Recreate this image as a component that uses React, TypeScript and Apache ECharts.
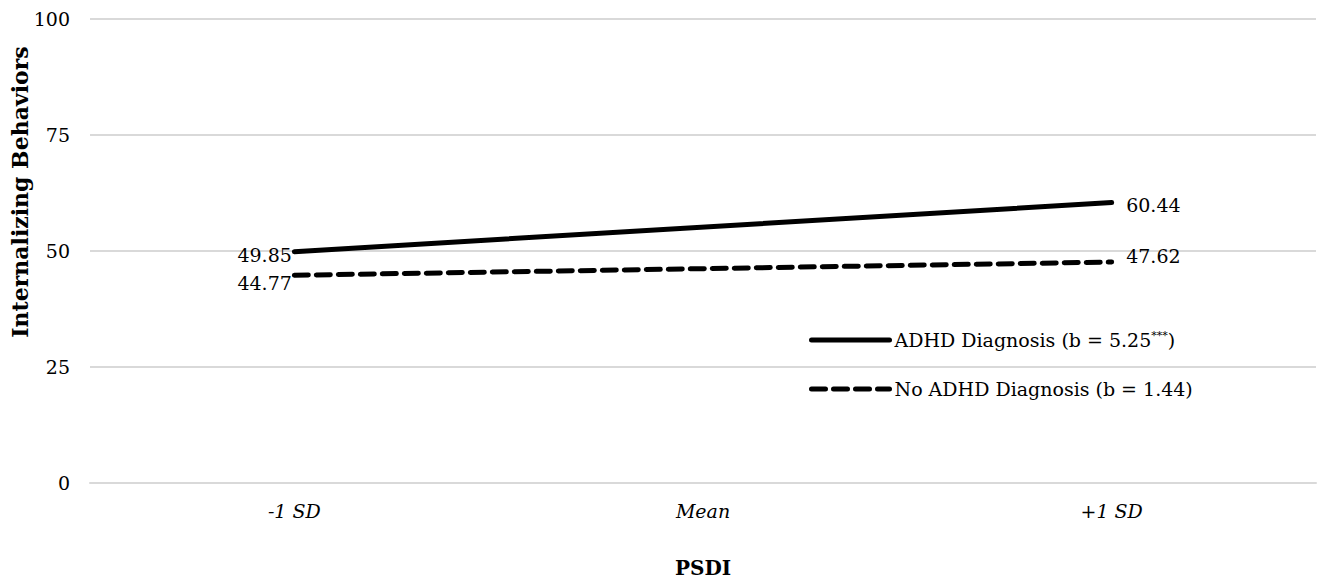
import React, { useEffect, useRef } from "react";
import * as echarts from "echarts";

const categories = ["-1 SD", "Mean", "+1 SD"];
const adhdValues: (number | null)[] = [49.85, null, 60.44];
const noAdhdValues: (number | null)[] = [44.77, null, 47.62];
const seriesNames = ["ADHD Diagnosis (b = 5.25***)", "No ADHD Diagnosis (b = 1.44)"];
const yTicks = { min: 0, max: 100, interval: 25 };

const FONT = "'DejaVu Serif', 'Liberation Serif', serif";

export default function App() {
  const ref = useRef<HTMLDivElement>(null);
  useEffect(() => {
    if (!ref.current) return;
    const chart = echarts.init(ref.current, undefined, { renderer: "svg" });
    const labelBase = { show: true, color: "#000", fontFamily: FONT, fontSize: 19 };
    const mk = (vals: (number | null)[], labels: any[]) =>
      vals.map((v, i) => (v == null ? null : { value: v, label: { ...labelBase, ...labels[i] } }));
    chart.setOption({
      animation: false,
      textStyle: { fontFamily: FONT },
      grid: { left: 90, right: 8, top: 19, bottom: 102, containLabel: false },
      xAxis: {
        type: "category",
        data: categories,
        boundaryGap: true,
        axisLine: { show: true, lineStyle: { color: "#d9d9d9", width: 2 } },
        axisTick: { show: false },
        axisLabel: { color: "#000", fontSize: 19, fontStyle: "italic", fontFamily: FONT, margin: 18 },
        name: "PSDI",
        nameLocation: "middle",
        nameGap: 75,
        nameTextStyle: { color: "#000", fontSize: 20, fontWeight: "bold", fontFamily: FONT },
      },
      yAxis: {
        type: "value",
        min: yTicks.min,
        max: yTicks.max,
        interval: yTicks.interval,
        axisLine: { show: false },
        axisTick: { show: false },
        splitLine: { lineStyle: { color: "#d9d9d9", width: 2 } },
        axisLabel: { color: "#000", fontSize: 19, fontFamily: FONT, margin: 20 },
      },
      graphic: [
        {
          type: "text",
          x: 20,
          y: 192,
          rotation: Math.PI / 2,
          style: {
            text: "Internalizing Behaviors",
            fill: "#000",
            font: `bold 22px ${FONT}`,
            textAlign: "center",
            textVerticalAlign: "middle",
          },
        },
      ],
      legend: {
        orient: "vertical",
        left: 804,
        top: 325,
        itemWidth: 78,
        itemHeight: 20,
        itemGap: 30,
        lineStyle: { width: 5 },
        itemStyle: { opacity: 0 },
        formatter: (name: string) =>
          name.indexOf("***") >= 0
            ? `{a|${name.replace("***)", "")}}{s|***}{a|)}`
            : `{a|${name}}`,
        textStyle: {
          color: "#000",
          fontSize: 19,
          fontFamily: FONT,
          padding: [0, 0, 0, 0],
          rich: {
            a: { fontSize: 19, fontFamily: FONT, color: "#000" },
            s: { fontSize: 11, fontFamily: FONT, color: "#000", padding: [0, 0, 9, 0] },
          },
        },
        data: seriesNames,
      },
      series: [
        {
          name: seriesNames[0],
          type: "line",
          data: mk(adhdValues, [
            { position: "left", distance: 2, offset: [0, 3] },
            {},
            { position: "right", distance: 14, offset: [0, 2] },
          ]),
          connectNulls: true,
          symbol: "circle",
          symbolSize: 1,
          showSymbol: true,
          lineStyle: { color: "#000", width: 5, cap: "round" },
          itemStyle: { color: "#000" },
        },
        {
          name: seriesNames[1],
          type: "line",
          data: mk(noAdhdValues, [
            { position: "left", distance: 2, offset: [0, 8] },
            {},
            { position: "right", distance: 14, offset: [0, -6] },
          ]),
          connectNulls: true,
          symbol: "circle",
          symbolSize: 1,
          showSymbol: true,
          lineStyle: { color: "#000", width: 5, type: [14, 8], cap: "round" },
          itemStyle: { color: "#000" },
        },
      ],
    });
    return () => chart.dispose();
  }, []);
  return <div ref={ref} style={{ width: 1324, height: 585, position: "absolute", left: 0, top: 0 }} />;
}
